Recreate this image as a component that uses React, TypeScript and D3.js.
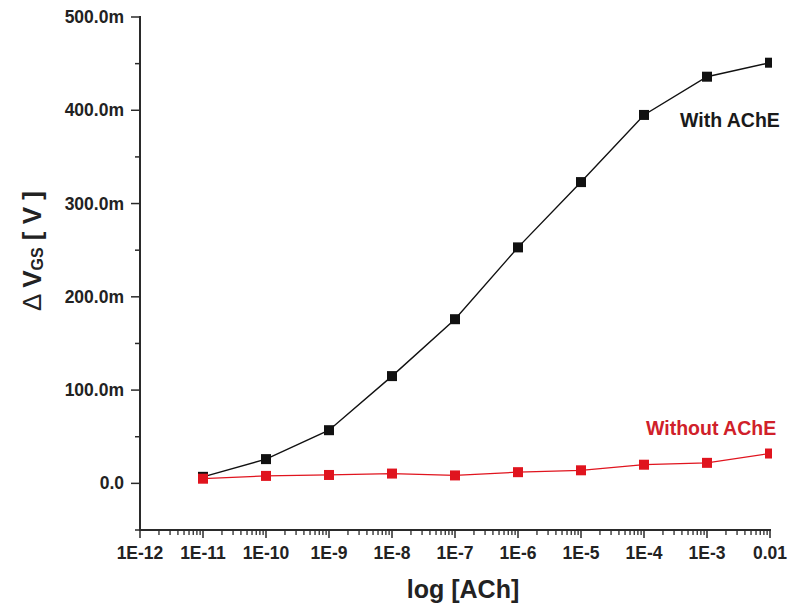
import * as d3 from "d3";
import React, { useEffect, useRef } from "react";

const concentrations = [1e-11, 1e-10, 1e-9, 1e-8, 1e-7, 1e-6, 1e-5, 1e-4, 1e-3, 1e-2];
const withAChE = [7, 26, 57, 115, 176, 253, 323, 395, 436, 451]; // mV
const withoutAChE = [5, 8, 9, 10.5, 8.5, 12, 14, 20, 22, 32]; // mV
const xTickLabels = ["1E-12", "1E-11", "1E-10", "1E-9", "1E-8", "1E-7", "1E-6", "1E-5", "1E-4", "1E-3", "0.01"];
const yTicks = [0, 100, 200, 300, 400, 500];

export default function App() {
    const ref = useRef<SVGSVGElement>(null);

    useEffect(() => {
        const svg = d3.select(ref.current);
        svg.selectAll("*").remove();

        const left = 140, right = 770, top = 17, bottom = 530;
        const x = d3.scaleLog().domain([1e-12, 1e-2]).range([left, right]);
        const y = d3.scaleLinear().domain([-50, 500]).range([bottom, top]);
        const font = "Arial, 'Liberation Sans', sans-serif";
        const axisColor = "#2a2a2a";

        const defs = svg.append("defs");
        defs.append("clipPath").attr("id", "plotclip")
            .append("rect").attr("x", left).attr("y", 0).attr("width", right - left + 2).attr("height", bottom);

        // y axis
        const yAxis = svg.append("g").attr("transform", `translate(${left},0)`);
        yAxis.append("line").attr("x1", 0).attr("x2", 0).attr("y1", top - 1).attr("y2", bottom)
            .attr("stroke", axisColor).attr("stroke-width", 2);
        yAxis.selectAll(".minor").data(d3.range(-50, 501, 50).filter((d) => d % 100 !== 0))
            .join("line")
            .attr("x1", -5).attr("x2", 0).attr("y1", (d) => y(d)).attr("y2", (d) => y(d))
            .attr("stroke", axisColor).attr("stroke-width", 1.5);
        yAxis.selectAll(".major").data(yTicks).join("line")
            .attr("x1", -9).attr("x2", 0).attr("y1", (d) => y(d)).attr("y2", (d) => y(d))
            .attr("stroke", axisColor).attr("stroke-width", 1.5);
        yAxis.selectAll("text").data(yTicks).join("text")
            .attr("x", -16).attr("y", (d) => y(d)).attr("dy", "0.35em")
            .attr("text-anchor", "end")
            .style("font", `bold 17.5px ${font}`).attr("fill", "#222")
            .text((d) => (d === 0 ? "0.0" : `${d.toFixed(1)}m`));

        // x axis
        const xAxis = svg.append("g").attr("transform", `translate(0,${bottom})`);
        xAxis.append("line").attr("x1", left - 1).attr("x2", right + 1).attr("y1", 0).attr("y2", 0)
            .attr("stroke", axisColor).attr("stroke-width", 2);
        const minor: number[] = [];
        for (let e = -12; e < -2; e++) for (let m = 2; m <= 9; m++) minor.push(m * Math.pow(10, e));
        xAxis.selectAll(".minor").data(minor).join("line")
            .attr("x1", (d) => x(d)).attr("x2", (d) => x(d)).attr("y1", 0).attr("y2", 5)
            .attr("stroke", axisColor).attr("stroke-width", 1.3);
        const majors = d3.range(-12, -1).map((e) => Math.pow(10, e));
        xAxis.selectAll(".major").data(majors).join("line")
            .attr("x1", (d) => x(d)).attr("x2", (d) => x(d)).attr("y1", 0).attr("y2", 8)
            .attr("stroke", axisColor).attr("stroke-width", 1.5);
        xAxis.selectAll("text").data(majors).join("text")
            .attr("x", (d) => x(d)).attr("y", 29)
            .attr("text-anchor", "middle")
            .style("font", `bold 17.5px ${font}`).attr("fill", "#222")
            .text((_, i) => xTickLabels[i]);

        // series
        const line = d3.line<number>()
            .x((_, i) => x(concentrations[i]))
            .y((d) => y(d));
        const plot = svg.append("g").attr("clip-path", "url(#plotclip)");
        const series = [
            { values: withAChE, color: "#111", width: 1.4 },
            { values: withoutAChE, color: "#e0141e", width: 1.2 },
        ];
        series.forEach((s) => {
            plot.append("path").attr("d", line(s.values)).attr("fill", "none")
                .attr("stroke", s.color).attr("stroke-width", s.width);
            plot.selectAll(null).data(s.values).enter().append("rect")
                .attr("x", (_, i) => x(concentrations[i]) - 5)
                .attr("y", (d) => y(d) - 5)
                .attr("width", 10).attr("height", 10)
                .attr("fill", s.color);
        });

        // annotations
        svg.append("text").attr("x", 680).attr("y", 127)
            .style("font", `bold 19.5px ${font}`).attr("fill", "#1a1a1a").text("With AChE");
        svg.append("text").attr("x", 646).attr("y", 435)
            .style("font", `bold 19.5px ${font}`).attr("fill", "#d0202a").text("Without AChE");

        // axis titles
        svg.append("text").attr("x", 463).attr("y", 598).attr("text-anchor", "middle")
            .style("font", `bold 25px ${font}`).attr("fill", "#222").text("log [ACh]");
        const yt = svg.append("text")
            .attr("transform", "translate(41,251) rotate(-90)")
            .attr("text-anchor", "middle")
            .style("font", `bold 26px ${font}`).attr("fill", "#222");
        yt.append("tspan").style("font-weight", "normal").text("Δ ");
        yt.append("tspan").text("V");
        yt.append("tspan").attr("dy", 2).style("font-size", "16px").text("GS");
        yt.append("tspan").attr("dy", -2).text(" [ V ]");
    }, []);

    return (
        <svg ref={ref} width={788} height={607}
            style={{ position: "absolute", left: 0, top: 0, background: "#fff" }} />
    );
}
